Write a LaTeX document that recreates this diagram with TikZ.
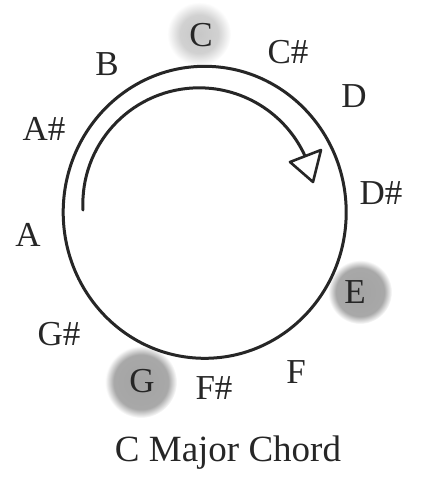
\documentclass[tikz,border=0pt]{standalone}
\usepackage{fontspec}
\setmainfont{Liberation Serif}
\pgfdeclareradialshading{glowdark}{\pgfpoint{0bp}{0bp}}{color(0bp)=(black!36); color(19bp)=(black!34); color(25bp)=(white); color(50bp)=(white)}
\pgfdeclareradialshading{glowlight}{\pgfpoint{0bp}{0bp}}{color(0bp)=(black!22); color(15bp)=(black!18); color(25bp)=(white); color(50bp)=(white)}
\begin{document}
\begin{tikzpicture}[x=1pt,y=-1pt,
  note/.style={font=\fontsize{35}{40}\selectfont, text=black!85, inner sep=0pt, text height=23pt, text depth=0pt},
  caption/.style={font=\fontsize{37}{42}\selectfont, text=black!85, inner sep=0pt, text height=24pt, text depth=0pt},
  ring/.style={line width=3pt, draw=black!85},
  turn/.style={line width=3pt, draw=black!85, line cap=round},
  tip/.style={line width=2.6pt, draw=black!85, fill=white, line join=round}]
\useasboundingbox (0,0) rectangle (428,482);
% glows
\shade[shading=glowlight] (199,34) circle (32);
\shade[shading=glowdark] (360,292) circle (32);
\shade[shading=glowdark] (141,382) circle (36);
% main circle
\coordinate (ctr) at (204.7,212.3);
\draw[ring] (ctr) ellipse[x radius=141.5, y radius=146];
% inner arrow arc
\coordinate (arcstart) at (83,210);
\draw[turn] (arcstart) arc[start angle=177.1, end angle=335.6, radius=116.3] coordinate (arcend);
\coordinate (t1) at (290,162);
\coordinate (t2) at (321,150);
\coordinate (t3) at (313,182);
\draw[tip] (t1) -- (t2) -- (t3) -- cycle;
% notes
\node[note] (C)  at (201,35)  {C};
\node[note] (Cs) at (288,52)  {C\#};
\node[note] (D)  at (354,96)  {D};
\node[note] (Ds) at (381,193) {D\#};
\node[note] (E)  at (355,292) {E};
\node[note] (F)  at (296,372) {F};
\node[note] (Fs) at (214,388) {F\#};
\node[note] (G)  at (142,381) {G};
\node[note] (Gs) at (59,334)  {G\#};
\node[note] (A)  at (28,235)  {A};
\node[note] (As) at (44,129)  {A\#};
\node[note] (B)  at (107,64)  {B};
\node[caption] (cap) at (228,449) {C Major Chord};
\end{tikzpicture}
\end{document}
